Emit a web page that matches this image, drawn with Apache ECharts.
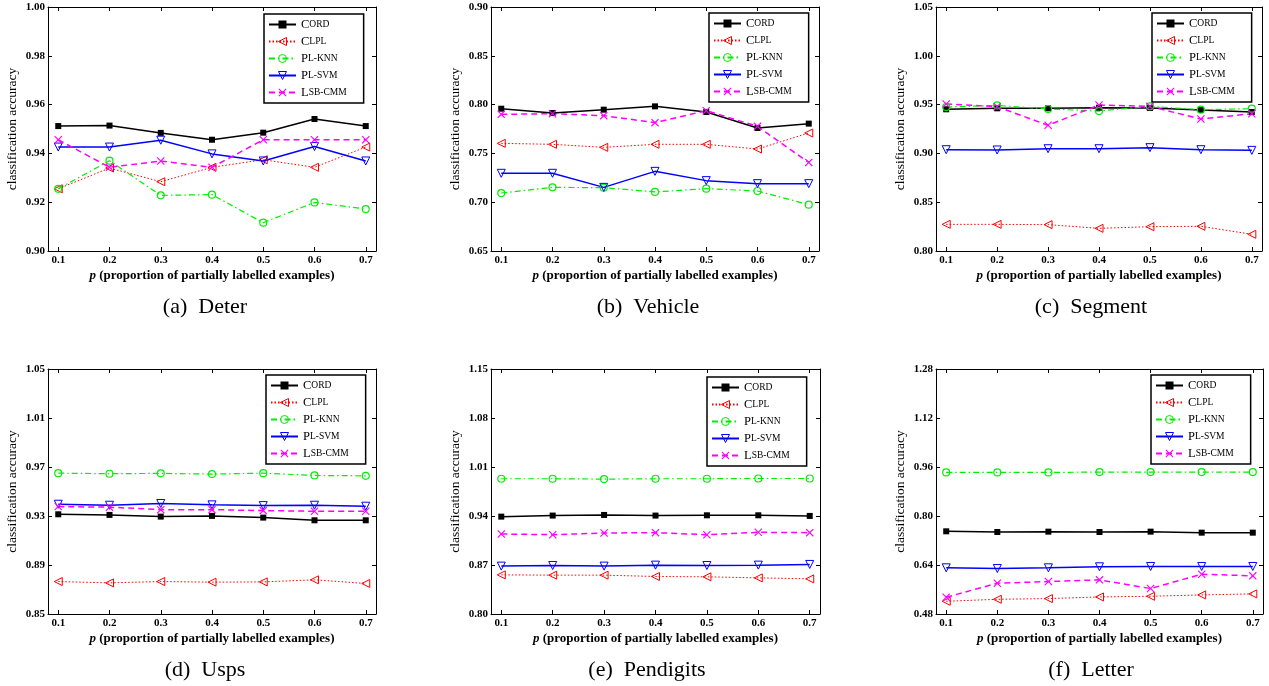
<!DOCTYPE html>
<html>
<head>
<meta charset="utf-8">
<script src="https://cdn.jsdelivr.net/npm/echarts@6/dist/echarts.min.js"></script>
<style>
  html, body { margin: 0; background: #fff; }
  #chart { width: 1269px; height: 686px; }
</style>
</head>
<body>
<div id="chart"></div>
<script>
// x values shared by every panel
const pValues = [0.1, 0.2, 0.3, 0.4, 0.5, 0.6, 0.7];
const methods = ['Cord', 'Clpl', 'Pl-knn', 'Pl-svm', 'Lsb-cmm'];

// (a) Deter
const deterCord = [0.9512, 0.9514, 0.9484, 0.9456, 0.9485, 0.9541, 0.9512];
const deterClpl = [0.9255, 0.9340, 0.9284, 0.9343, 0.9374, 0.9343, 0.9426];
const deterKnn  = [0.9255, 0.9370, 0.9228, 0.9231, 0.9116, 0.9199, 0.9172];
const deterSvm  = [0.9426, 0.9426, 0.9454, 0.9398, 0.9369, 0.9428, 0.9369];
const deterLsb  = [0.9456, 0.9343, 0.9369, 0.9343, 0.9456, 0.9456, 0.9456];
const deterTicks = [0.90, 0.92, 0.94, 0.96, 0.98, 1.00];

// (b) Vehicle
const vehicleCord = [0.7958, 0.7914, 0.7948, 0.7982, 0.7924, 0.7760, 0.7805];
const vehicleClpl = [0.7603, 0.7593, 0.7562, 0.7593, 0.7593, 0.7545, 0.7709];
const vehicleKnn  = [0.7094, 0.7152, 0.7149, 0.7105, 0.7139, 0.7115, 0.6975];
const vehicleSvm  = [0.7296, 0.7296, 0.7152, 0.7316, 0.7221, 0.7190, 0.7190];
const vehicleLsb  = [0.7900, 0.7907, 0.7887, 0.7815, 0.7938, 0.7777, 0.7408];
const vehicleTicks = [0.65, 0.70, 0.75, 0.80, 0.85, 0.90];

// (c) Segment
const segmentCord = [0.9452, 0.9462, 0.9462, 0.9468, 0.9465, 0.9445, 0.9424];
const segmentClpl = [0.8273, 0.8273, 0.8270, 0.8232, 0.8249, 0.8253, 0.8171];
const segmentKnn  = [0.9475, 0.9492, 0.9455, 0.9434, 0.9482, 0.9448, 0.9458];
const segmentSvm  = [0.9038, 0.9035, 0.9048, 0.9048, 0.9059, 0.9038, 0.9031];
const segmentLsb  = [0.9506, 0.9479, 0.9288, 0.9496, 0.9482, 0.9352, 0.9407];
const segmentTicks = [0.80, 0.85, 0.90, 0.95, 1.00, 1.05];

// (d) Usps
const uspsCord = [0.9314, 0.9309, 0.9295, 0.9301, 0.9287, 0.9265, 0.9265];
const uspsClpl = [0.8765, 0.8754, 0.8765, 0.8760, 0.8762, 0.8779, 0.8749];
const uspsKnn  = [0.9650, 0.9645, 0.9648, 0.9642, 0.9650, 0.9631, 0.9628];
const uspsSvm  = [0.9396, 0.9388, 0.9402, 0.9391, 0.9385, 0.9388, 0.9380];
const uspsLsb  = [0.9377, 0.9372, 0.9352, 0.9352, 0.9344, 0.9339, 0.9339];
const uspsTicks = [0.85, 0.89, 0.93, 0.97, 1.01, 1.05];

// (e) Pendigits
const pendigitsCord = [0.9391, 0.9406, 0.9415, 0.9406, 0.9410, 0.9410, 0.9401];
const pendigitsClpl = [0.8559, 0.8555, 0.8555, 0.8536, 0.8531, 0.8516, 0.8502];
const pendigitsKnn  = [0.9932, 0.9932, 0.9927, 0.9932, 0.9932, 0.9936, 0.9936];
const pendigitsSvm  = [0.8684, 0.8693, 0.8684, 0.8698, 0.8693, 0.8698, 0.8708];
const pendigitsLsb  = [0.9143, 0.9133, 0.9157, 0.9162, 0.9133, 0.9167, 0.9162];
const pendigitsTicks = [0.80, 0.87, 0.94, 1.01, 1.08, 1.15];

// (f) Letter
const letterCord = [0.7500, 0.7478, 0.7489, 0.7478, 0.7489, 0.7456, 0.7456];
const letterClpl = [0.5215, 0.5281, 0.5303, 0.5357, 0.5379, 0.5423, 0.5456];
const letterKnn  = [0.9423, 0.9423, 0.9423, 0.9434, 0.9434, 0.9434, 0.9434];
const letterSvm  = [0.6308, 0.6286, 0.6308, 0.6341, 0.6352, 0.6352, 0.6352];
const letterLsb  = [0.5346, 0.5805, 0.5860, 0.5915, 0.5631, 0.6100, 0.6046];
const letterTicks = [0.48, 0.64, 0.80, 0.96, 1.12, 1.28];

const panels = [
  { label: '(a)  Deter',     data: [deterCord, deterClpl, deterKnn, deterSvm, deterLsb], ticks: deterTicks },
  { label: '(b)  Vehicle',   data: [vehicleCord, vehicleClpl, vehicleKnn, vehicleSvm, vehicleLsb], ticks: vehicleTicks },
  { label: '(c)  Segment',   data: [segmentCord, segmentClpl, segmentKnn, segmentSvm, segmentLsb], ticks: segmentTicks },
  { label: '(d)  Usps',      data: [uspsCord, uspsClpl, uspsKnn, uspsSvm, uspsLsb], ticks: uspsTicks },
  { label: '(e)  Pendigits', data: [pendigitsCord, pendigitsClpl, pendigitsKnn, pendigitsSvm, pendigitsLsb], ticks: pendigitsTicks },
  { label: '(f)  Letter',    data: [letterCord, letterClpl, letterKnn, letterSvm, letterLsb], ticks: letterTicks },
];

// pixel layout: plot box [left, top, width, height], legend [left, top], caption centre
const boxes = [
  { grid: [48, 7, 328, 244],   legend: [264, 14],   caption: [205, 307] },
  { grid: [491, 7, 328, 244],  legend: [709, 13],   caption: [648, 307] },
  { grid: [936, 7, 326, 244],  legend: [1152, 13],  caption: [1091, 307] },
  { grid: [48, 369, 328, 245], legend: [266, 375],  caption: [205, 670] },
  { grid: [491, 369, 329, 245], legend: [707, 377], caption: [647, 670] },
  { grid: [936, 369, 327, 245], legend: [1151, 375], caption: [1091, 670] },
];

const FONT = 'Liberation Serif';
const crossPath = 'path://M0,1L1,0L5,4L9,0L10,1L6,5L10,9L9,10L5,6L1,10L0,9L4,5Z';

// marker + line look of each method (matlab style)
const styles = [
  { symbol: 'rect', symbolSize: 6, symbolRotate: 0,
    itemStyle: { color: '#000', borderWidth: 0 },
    lineStyle: { color: '#000', width: 1.5, type: 'solid' } },
  { symbol: 'triangle', symbolSize: 8, symbolRotate: 90,
    itemStyle: { color: 'rgba(255,255,255,0)', borderColor: '#ff0000', borderWidth: 1 },
    lineStyle: { color: '#ff0000', width: 1, type: [1.5, 2] } },
  { symbol: 'circle', symbolSize: 7, symbolRotate: 0,
    itemStyle: { color: 'rgba(255,255,255,0)', borderColor: '#00ee00', borderWidth: 1.2 },
    lineStyle: { color: '#00ee00', width: 1.2, type: [6, 3, 1.5, 3] } },
  { symbol: 'triangle', symbolSize: 8, symbolRotate: 180,
    itemStyle: { color: 'rgba(255,255,255,0)', borderColor: '#0000ff', borderWidth: 1 },
    lineStyle: { color: '#0000ff', width: 1.5, type: 'solid' } },
  { symbol: crossPath, symbolSize: 8, symbolRotate: 0,
    itemStyle: { color: '#ff00ff', borderWidth: 0 },
    lineStyle: { color: '#ff00ff', width: 1.5, type: [6, 4] } },
];

const tickStyle = { show: true, inside: true, length: 4, lineStyle: { color: '#000', width: 1 } };
const lineAxis = { show: true, onZero: false, lineStyle: { color: '#000', width: 1 } };

const option = {
  animation: false,
  backgroundColor: '#fff',
  grid: [], xAxis: [], yAxis: [], legend: [], series: [], graphic: [],
};

panels.forEach((panel, g) => {
  const box = boxes[g];
  const ticks = panel.ticks;
  option.grid.push({ left: box.grid[0], top: box.grid[1], width: box.grid[2], height: box.grid[3] });

  // bottom axis with labels, top axis only for ticks (box on)
  option.xAxis.push({
    type: 'value', gridIndex: g, position: 'bottom', min: 0.08, max: 0.72,
    axisLine: lineAxis,
    axisTick: Object.assign({ customValues: pValues }, tickStyle),
    axisLabel: { customValues: pValues, formatter: v => v.toFixed(1), color: '#000',
      fontFamily: FONT, fontWeight: 'bold', fontSize: 11, margin: 4 },
    splitLine: { show: false },
    name: '{i|p} (proportion of partially labelled examples)',
    nameLocation: 'middle', nameGap: 18,
    nameTextStyle: { color: '#000', fontFamily: FONT, fontSize: 13, fontWeight: 'bold',
      rich: { i: { fontStyle: 'italic', fontFamily: FONT, fontSize: 13, color: '#000' } } },
  });
  option.xAxis.push({
    type: 'value', gridIndex: g, position: 'top', min: 0.08, max: 0.72,
    axisLine: lineAxis,
    axisTick: Object.assign({ customValues: pValues }, tickStyle),
    axisLabel: { show: false }, splitLine: { show: false },
  });
  option.yAxis.push({
    type: 'value', gridIndex: g, position: 'left', min: ticks[0], max: ticks[ticks.length - 1],
    axisLine: lineAxis,
    axisTick: Object.assign({ customValues: ticks }, tickStyle),
    axisLabel: { customValues: ticks, formatter: v => v.toFixed(2), color: '#000',
      fontFamily: FONT, fontWeight: 'bold', fontSize: 11, margin: 3 },
    splitLine: { show: false },
    name: 'classification accuracy', nameLocation: 'middle', nameGap: 29,
    nameTextStyle: { color: '#000', fontFamily: FONT, fontSize: 13.5 },
  });
  option.yAxis.push({
    type: 'value', gridIndex: g, position: 'right', min: ticks[0], max: ticks[ticks.length - 1],
    axisLine: lineAxis,
    axisTick: Object.assign({ customValues: ticks }, tickStyle),
    axisLabel: { show: false }, splitLine: { show: false },
  });

  option.legend.push({
    orient: 'vertical', left: box.legend[0], top: box.legend[1],
    data: methods,
    backgroundColor: '#fff', borderColor: '#000', borderWidth: 1.5,
    padding: [4, 17, 4, 4], itemWidth: 27, itemHeight: 10, itemGap: 4,
    itemStyle: { borderWidth: 1 },
    selectedMode: false,
    formatter: name => '{b|' + name[0] + '}{s|' + name.slice(1).toUpperCase() + '}',
    textStyle: { color: '#000', fontFamily: FONT,
      rich: { b: { fontSize: 12.5, fontFamily: FONT, color: '#000' },
              s: { fontSize: 9.5, fontFamily: FONT, color: '#000' } } },
  });

  panel.data.forEach((values, m) => {
    const st = styles[m];
    option.series.push({
      name: methods[m], type: 'line',
      xAxisIndex: 2 * g, yAxisIndex: 2 * g,
      data: pValues.map((p, i) => [p, values[i]]),
      symbol: st.symbol, symbolSize: st.symbolSize, symbolRotate: st.symbolRotate,
      showSymbol: true, showAllSymbol: true,
      itemStyle: st.itemStyle, lineStyle: st.lineStyle,
      emphasis: { disabled: true },
    });
  });

  option.graphic.push({
    type: 'text', x: box.caption[0], y: box.caption[1],
    style: { text: panel.label, font: '22px "' + FONT + '"', fill: '#000',
      align: 'center', verticalAlign: 'middle' },
  });
});

const chart = echarts.init(document.getElementById('chart'));
chart.setOption(option);
window.addEventListener('resize', () => chart.resize());
</script>
</body>
</html>
